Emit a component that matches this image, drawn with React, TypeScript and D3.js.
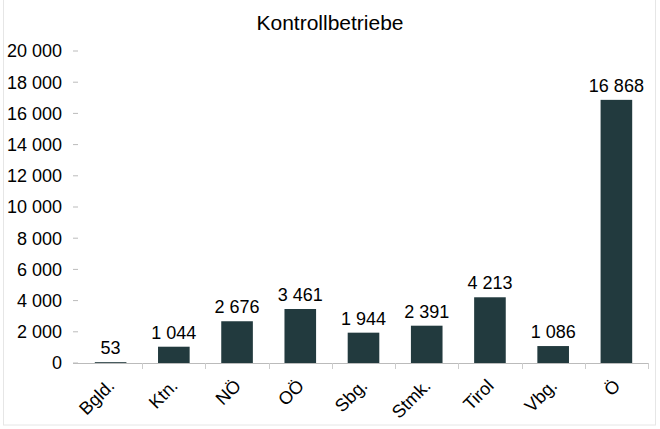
import { useRef, useEffect } from 'react';
import * as d3 from 'd3';

const categories = ['Bgld.', 'Ktn.', 'NÖ', 'OÖ', 'Sbg.', 'Stmk.', 'Tirol', 'Vbg.', 'Ö'];
const values = [53, 1044, 2676, 3461, 1944, 2391, 4213, 1086, 16868];
const yTicks = [0, 2000, 4000, 6000, 8000, 10000, 12000, 14000, 16000, 18000, 20000];

const fmt = (v: number) => d3.format(',')(v).replace(/,/g, ' ');

const App: React.FC = () => {
  const ref = useRef<SVGSVGElement>(null);

  useEffect(() => {
    if (!ref.current) return;
    const svg = d3.select(ref.current);
    svg.selectAll('*').remove();

    const font = 'Arial, "Liberation Sans", sans-serif';
    const barColor = '#223a3e';

    // frame
    svg.append('rect')
      .attr('x', 3.5).attr('y', -1)
      .attr('width', 652).attr('height', 426)
      .style('fill', 'white')
      .style('stroke', '#e6e6e6');

    const x = d3.scaleBand().domain(categories).range([79, 648]).paddingInner(0.5).paddingOuter(0.25);
    const y = d3.scaleLinear().domain([0, 20000]).range([363, 51]);

    svg.append('text')
      .attr('x', 330).attr('y', 30)
      .attr('text-anchor', 'middle')
      .style('font-family', font).style('font-size', '21px')
      .text('Kontrollbetriebe');

    // y axis labels and ticks
    const yg = svg.append('g');
    yTicks.forEach(t => {
      yg.append('line')
        .attr('x1', 73).attr('x2', 78)
        .attr('y1', y(t)).attr('y2', y(t))
        .style('stroke', '#bbbbbb');
      yg.append('text')
        .attr('x', 62).attr('y', y(t)).attr('dy', '0.35em')
        .attr('text-anchor', 'end')
        .style('font-family', font).style('font-size', '18px')
        .text(fmt(t));
    });

    // x axis line and ticks between categories
    svg.append('line')
      .attr('x1', 73).attr('x2', 648)
      .attr('y1', y(0) + 0.5).attr('y2', y(0) + 0.5)
      .style('stroke', '#bbbbbb');
    const step = x.step();
    const start = x.range()[0];
    d3.range(1, categories.length + 1).forEach(i => {
      const tx = Math.round(start + i * step) + 0.5;
      svg.append('line')
        .attr('x1', tx).attr('x2', tx)
        .attr('y1', y(0)).attr('y2', y(0) + 6)
        .style('stroke', '#cccccc');
    });

    // bars
    svg.append('g').selectAll('rect')
      .data(values)
      .join('rect')
      .attr('x', (_, i) => x(categories[i])!)
      .attr('y', d => y(d))
      .attr('width', x.bandwidth())
      .attr('height', d => y(0) - y(d))
      .style('fill', barColor);

    // value labels
    svg.append('g').selectAll('text')
      .data(values)
      .join('text')
      .attr('x', (_, i) => x(categories[i])! + x.bandwidth() / 2)
      .attr('y', d => y(d) - 8)
      .attr('text-anchor', 'middle')
      .style('font-family', font).style('font-size', '18px')
      .text(d => fmt(d));

    // category labels
    svg.append('g').selectAll('text')
      .data(categories)
      .join('text')
      .attr('transform', c => `translate(${x(c)! + x.bandwidth() / 2 + 5},${y(0) + 24}) rotate(-45)`)
      .attr('text-anchor', 'end')
      .style('font-family', font).style('font-size', '18px')
      .text(c => c);
  }, []);

  return (
    <svg ref={ref} width={660} height={429} style={{ position: 'absolute', left: 0, top: 0 }} />
  );
};

export default App;
